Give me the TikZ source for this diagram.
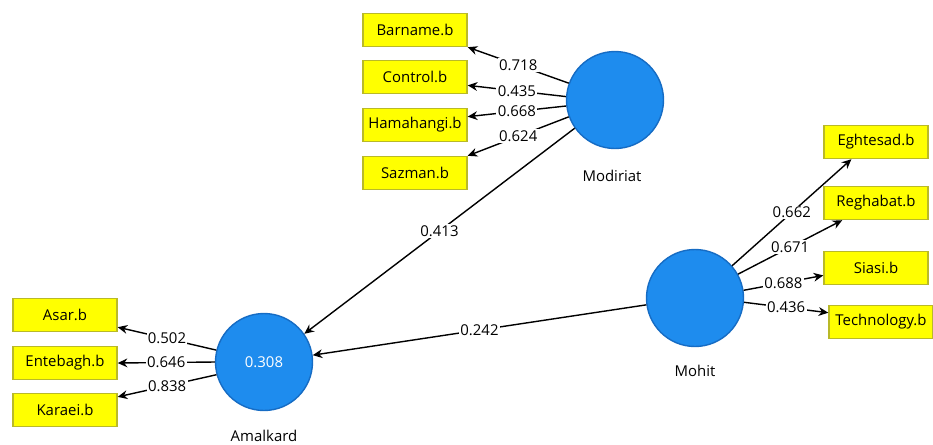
\documentclass[tikz,border=0pt]{standalone}
\usepackage{fontspec}
\setmainfont{Open Sans}
\usepackage{tikz}
\usetikzlibrary{shapes.geometric, arrows, arrows.meta}
\definecolor{plsblue}{RGB}{30,140,238}
\definecolor{plsedge}{RGB}{22,108,196}
\definecolor{plsyellow}{RGB}{255,255,0}
\definecolor{plsolive}{RGB}{185,185,40}
\tikzstyle{arrow} = [->,>={Stealth[length=5.5pt,width=5pt]},line width=0.8pt]
\tikzstyle{latent} = [circle,fill=plsblue,draw=plsedge,line width=0.8pt,minimum size=1.94cm,inner sep=0pt,text=white,font=\fontsize{8.5}{10}\selectfont]
\tikzstyle{indicator} = [rectangle,fill=plsyellow,draw=plsolive,line width=0.8pt,minimum width=2.08cm,minimum height=0.66cm,inner sep=2pt,font=\fontsize{8.5}{10}\selectfont]
\tikzstyle{weight} = [fill=white,inner sep=0.8pt,font=\fontsize{8.5}{10}\selectfont]
\tikzstyle{latname} = [inner sep=1pt,font=\fontsize{8.5}{10}\selectfont]

\begin{document}
\begin{tikzpicture}[x=0.02cm,y=-0.02cm]
    \useasboundingbox (0,0) rectangle (933,444);
    % latent variables
    \node[latent] (mod) at (615,100) {};
    \node[latent] (amal) at (264,362) {0.308};
    \node[latent] (moh) at (695,298) {};
    \node[latname] (modname) at (612,176) {Modiriat};
    \node[latname] (amalname) at (264,436) {Amalkard};
    \node[latname] (mohname) at (695,371) {Mohit};
    % indicators
    \node[indicator] (barname) at (415,30) {Barname.b};
    \node[indicator] (control) at (415,77) {Control.b};
    \node[indicator] (hamahangi) at (415,125) {Hamahangi.b};
    \node[indicator] (sazman) at (415,173) {Sazman.b};
    \node[indicator] (asar) at (65,315) {Asar.b};
    \node[indicator] (entebagh) at (65,363) {Entebagh.b};
    \node[indicator] (karaei) at (65,410) {Karaei.b};
    \node[indicator] (eghtesad) at (876,142) {Eghtesad.b};
    \node[indicator] (reghabat) at (876,203) {Reghabat.b};
    \node[indicator] (siasi) at (876,268) {Siasi.b};
    \node[indicator] (technology) at (881,322) {Technology.b};
    % outer loadings
    \draw[arrow] (mod.160) -- node[weight] {0.718} (barname.south east);
    \draw[arrow] (mod.176) -- node[weight] {0.435} (control.-9);
    \draw[arrow] (mod.187) -- node[weight] {0.668} (hamahangi.9);
    \draw[arrow] (mod.200) -- node[weight] {0.624} (sazman.north east);
    \draw[arrow] (amal.166) -- node[weight] {0.502} (asar.-13);
    \draw[arrow] (amal.180) -- node[weight] {0.646} (entebagh.east);
    \draw[arrow] (amal.195) -- node[weight] {0.838} (karaei.14);
    \draw[arrow] (moh.41) -- node[weight] {0.662} (eghtesad.215);
    \draw[arrow] (moh.29) -- node[weight] {0.671} (reghabat.207);
    \draw[arrow] (moh.9) -- node[weight] {0.688} (siasi.188);
    \draw[arrow] (moh.-5) -- node[weight] {0.436} (technology.170);
    % path coefficients
    \draw[arrow] (mod.215) -- node[weight] {0.413} (amal.35);
    \draw[arrow] (moh.188) -- node[weight] {0.242} (amal.8);
\end{tikzpicture}
\end{document}
